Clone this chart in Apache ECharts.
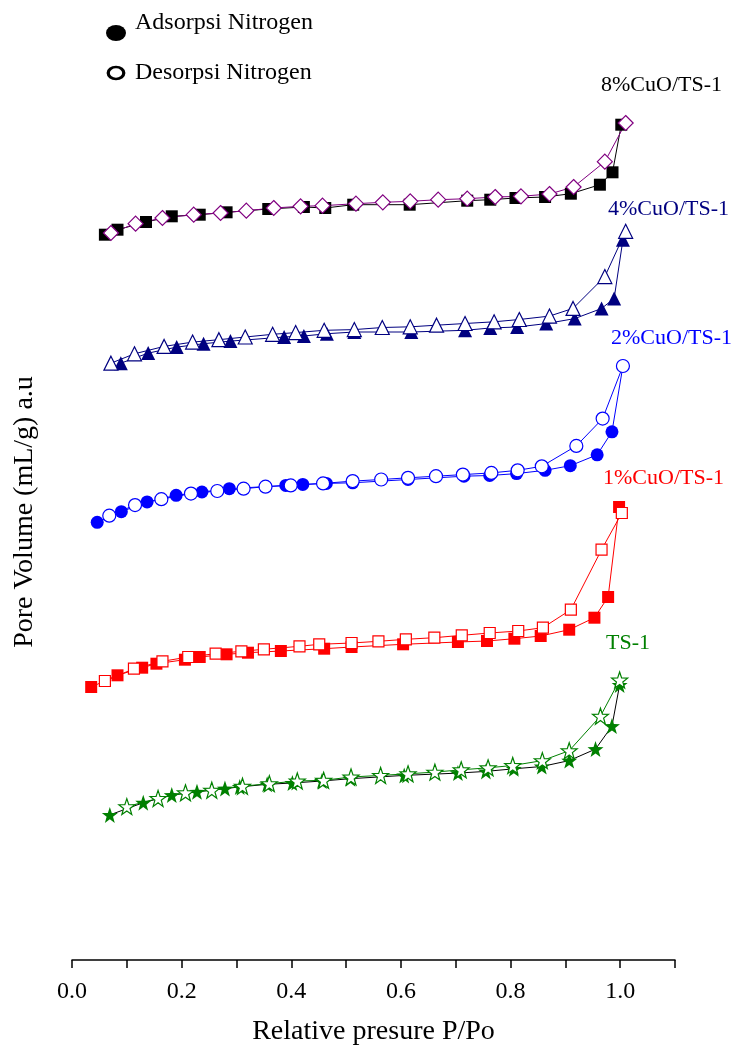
<!DOCTYPE html>
<html>
<head>
<meta charset="utf-8">
<script src="https://cdn.jsdelivr.net/npm/echarts@6/dist/echarts.min.js"></script>
<style>html,body{margin:0;padding:0;background:#fff}#c{width:734px;height:1048px}</style>
</head>
<body>
<div id="c"></div>
<script>
// ---- data (x = P/Po, y = pore volume, arbitrary offset units) ----
const cu8AdsX = [0.060,0.083,0.135,0.182,0.233,0.282,0.358,0.423,0.462,0.513,0.616,0.721,0.763,0.809,0.863,0.910,0.963,0.986,1.002];
const cu8AdsY = [72.53,73.03,73.80,74.37,74.53,74.77,75.10,75.30,75.20,75.53,75.53,75.93,76.03,76.20,76.30,76.63,77.53,78.77,83.53];
const cu8DesX = [0.071,0.116,0.165,0.222,0.271,0.318,0.368,0.417,0.457,0.518,0.567,0.617,0.668,0.721,0.772,0.819,0.871,0.915,0.972,1.010];
const cu8DesY = [72.70,73.63,74.20,74.53,74.70,74.93,75.20,75.37,75.43,75.63,75.77,75.87,76.03,76.13,76.30,76.37,76.60,77.30,79.83,83.70];

const cu4AdsX = [0.089,0.139,0.191,0.240,0.289,0.387,0.423,0.465,0.515,0.619,0.717,0.763,0.812,0.865,0.917,0.966,0.989,1.005];
const cu4AdsY = [59.68,60.69,61.29,61.63,61.89,62.30,62.40,62.63,62.80,62.80,62.97,63.20,63.30,63.64,64.14,65.15,66.16,72.03];
const cu4DesX = [0.071,0.114,0.168,0.220,0.268,0.316,0.366,0.408,0.460,0.515,0.566,0.617,0.665,0.717,0.770,0.816,0.871,0.914,0.972,1.010];
const cu4DesY = [59.68,60.62,61.36,61.79,62.03,62.30,62.57,62.74,62.97,63.04,63.25,63.32,63.48,63.65,63.82,64.05,64.39,65.16,68.34,72.87];

const cu2AdsX = [0.046,0.090,0.137,0.190,0.237,0.287,0.390,0.421,0.464,0.512,0.613,0.715,0.762,0.811,0.863,0.909,0.958,0.985,1.005];
const cu2AdsY = [43.77,44.83,45.81,46.47,46.80,47.13,47.46,47.56,47.66,47.72,48.05,48.38,48.45,48.64,48.97,49.43,50.52,52.82,59.40];
const cu2DesX = [0.068,0.115,0.163,0.217,0.265,0.313,0.353,0.399,0.458,0.512,0.564,0.613,0.664,0.713,0.765,0.813,0.857,0.920,0.968,1.005];
const cu2DesY = [44.43,45.49,46.08,46.64,46.90,47.13,47.33,47.46,47.66,47.89,48.05,48.22,48.38,48.54,48.71,48.97,49.37,51.41,54.14,59.40];

const cu1AdsX = [0.035,0.083,0.128,0.154,0.206,0.233,0.282,0.321,0.381,0.460,0.510,0.604,0.704,0.757,0.807,0.855,0.907,0.953,0.978,0.998];
const cu1AdsY = [27.30,28.47,29.23,29.63,30.03,30.30,30.57,30.73,30.90,31.13,31.30,31.57,31.80,31.90,32.13,32.40,33.03,34.23,36.30,45.30];
const cu1DesX = [0.060,0.113,0.165,0.212,0.262,0.309,0.350,0.415,0.451,0.510,0.559,0.609,0.661,0.711,0.762,0.814,0.859,0.910,0.966,1.003];
const cu1DesY = [27.90,29.13,29.87,30.30,30.63,30.87,31.07,31.37,31.57,31.70,31.87,32.07,32.23,32.47,32.70,32.90,33.23,35.03,41.03,44.70];

const tsAdsX = [0.069,0.130,0.182,0.228,0.279,0.306,0.356,0.402,0.456,0.508,0.606,0.704,0.755,0.806,0.857,0.907,0.955,0.985,0.999];
const tsAdsY = [14.51,15.73,16.49,16.82,17.14,17.31,17.57,17.70,17.90,18.13,18.46,18.69,18.86,19.12,19.35,19.94,21.09,23.39,27.51];
const tsDesX = [0.100,0.157,0.207,0.255,0.311,0.360,0.411,0.459,0.509,0.563,0.613,0.662,0.710,0.759,0.804,0.858,0.907,0.964,0.999];
const tsDesY = [15.34,16.16,16.72,16.98,17.38,17.64,17.90,17.97,18.30,18.46,18.62,18.79,19.02,19.22,19.45,19.94,20.93,24.38,28.00];

const sampleNames = ['8%CuO/TS-1','4%CuO/TS-1','2%CuO/TS-1','1%CuO/TS-1','TS-1'];
const legendNames = ['Adsorpsi Nitrogen','Desorpsi Nitrogen'];
const xAxisName = 'Relative presure P/Po';
const yAxisName = 'Pore Volume (mL/g) a.u';

const FONT = '"Liberation Serif","Times New Roman",serif';
const STAR = 'path://M0,-10L2.35,-3.24L9.51,-3.09L3.8,1.24L5.88,8.09L0,4L-5.88,8.09L-3.8,1.24L-9.51,-3.09L-2.35,-3.24Z';

function zip(xs, ys){ return xs.map((x,i)=>[x, ys[i]]); }
function ser(name, xs, ys, symbol, size, fill, stroke, lineColor){
  return {
    name, type:'line', data: zip(xs, ys), symbol, symbolSize: size, showSymbol:true,
    lineStyle:{color: lineColor, width:1},
    itemStyle:{color: fill, borderColor: stroke, borderWidth: fill === '#ffffff' ? 1.2 : 0},
    emphasis:{disabled:true}, animation:false
  };
}

const series = [
  ser('8 ads', cu8AdsX, cu8AdsY, 'rect', 12, '#000000', '#000000', '#000000'),
  ser('8 des', cu8DesX, cu8DesY, 'diamond', 15, '#ffffff', '#800080', '#800080'),
  ser('4 ads', cu4AdsX, cu4AdsY, 'triangle', 14, '#000080', '#000080', '#000080'),
  ser('4 des', cu4DesX, cu4DesY, 'triangle', 14, '#ffffff', '#000080', '#000080'),
  ser('2 ads', cu2AdsX, cu2AdsY, 'circle', 13, '#0000ff', '#0000ff', '#0000ff'),
  ser('2 des', cu2DesX, cu2DesY, 'circle', 13, '#ffffff', '#0000ff', '#0000ff'),
  ser('1 ads', cu1AdsX, cu1AdsY, 'rect', 12, '#ff0000', '#ff0000', '#ff0000'),
  ser('1 des', cu1DesX, cu1DesY, 'rect', 11, '#ffffff', '#ff0000', '#ff0000'),
  ser('ts ads', tsAdsX, tsAdsY, STAR, 16, '#008000', '#008000', '#000000'),
  ser('ts des', tsDesX, tsDesY, STAR, 16, '#ffffff', '#008000', '#008000')
];

const labelColors = ['#000000','#000080','#0000ff','#ff0000','#008000'];
const labelPos = [[601,85],[608,209],[611,338],[603,478],[606,643]];

const graphic = [];
sampleNames.forEach((n,i)=>{
  graphic.push({type:'text', x:labelPos[i][0], y:labelPos[i][1], silent:true,
    style:{text:n, fill:labelColors[i], font:'22px '+FONT, verticalAlign:'middle'}});
});
graphic.push({type:'circle', x:116, y:33, scaleX:1.25, shape:{cx:0,cy:0,r:8}, style:{fill:'#000'}, silent:true});
graphic.push({type:'circle', x:116, y:73, scaleX:1.3, shape:{cx:0,cy:0,r:6}, style:{fill:'#fff', stroke:'#000', lineWidth:2.5}, silent:true});
graphic.push({type:'text', x:135, y:23, silent:true, style:{text:legendNames[0], fill:'#000', font:'24px '+FONT, verticalAlign:'middle'}});
graphic.push({type:'text', x:135, y:73, silent:true, style:{text:legendNames[1], fill:'#000', font:'24px '+FONT, verticalAlign:'middle'}});
graphic.push({type:'text', x:25, y:512, rotation:Math.PI/2, silent:true,
  style:{text:yAxisName, fill:'#000', font:'28px '+FONT, align:'center', verticalAlign:'middle'}});

const chart = echarts.init(document.getElementById('c'), null, {renderer:'canvas'});
chart.setOption({
  animation:false,
  backgroundColor:'#ffffff',
  grid:{left:72, right:59, top:60, bottom:88, containLabel:false, outerBoundsMode:'none'},
  xAxis:{
    type:'value', min:0, max:1.1, interval:0.1,
    name:xAxisName, nameLocation:'middle', nameGap:58,
    nameTextStyle:{fontFamily:FONT, fontSize:28, color:'#000'},
    axisLine:{show:true, onZero:false, lineStyle:{color:'#000', width:1.5}},
    axisTick:{show:true, inside:false, length:8, lineStyle:{color:'#000', width:1.5}},
    axisLabel:{show:true, margin:20, fontFamily:FONT, fontSize:24, color:'#000',
      formatter:function(v){ return Math.round(v*10)%2===0 ? v.toFixed(1) : ''; }},
    splitLine:{show:false}
  },
  yAxis:{type:'value', min:0, max:90, show:false, splitLine:{show:false}},
  series: series,
  graphic: graphic
});
</script>
</body>
</html>
